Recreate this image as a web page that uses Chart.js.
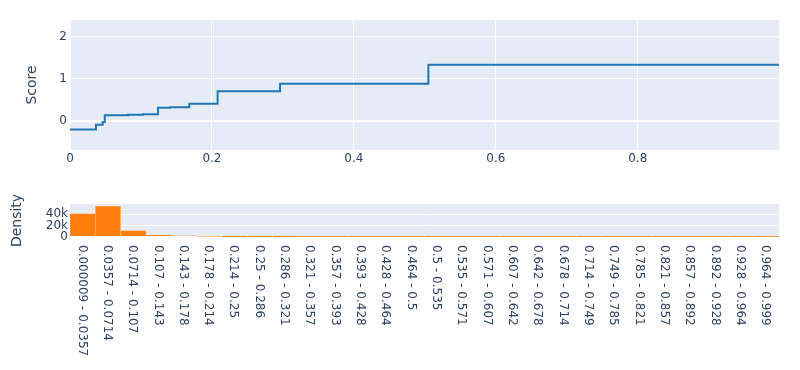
<!DOCTYPE html>
<html><head><meta charset="utf-8">
<script src="https://cdn.jsdelivr.net/npm/chart.js@4.4.1/dist/chart.umd.min.js"></script>
<style>
html,body{margin:0;padding:0;background:#fff;}
#wrap{position:relative;width:800px;height:370px;overflow:hidden;}
canvas{position:absolute;left:0;}
</style></head><body>
<div id="wrap">
<canvas id="top" width="800" height="180" style="top:0"></canvas>
<canvas id="bot" width="800" height="190" style="top:180px"></canvas>
</div>
<script>
// ---- data ----
const thresholds = [0, 0.0366, 0.041, 0.046, 0.049, 0.082, 0.103, 0.124, 0.141, 0.168, 0.208, 0.296, 0.505, 0.999];
const scores     = [-0.21, -0.10, -0.10, -0.03, 0.13, 0.14, 0.15, 0.31, 0.32, 0.40, 0.70, 0.88, 1.33, 1.33];
const scoreTicksX = [0, 0.2, 0.4, 0.6, 0.8];
const scoreTicksY = [0, 1, 2];
const binLabels = ["0.000009 - 0.0357","0.0357 - 0.0714","0.0714 - 0.107","0.107 - 0.143","0.143 - 0.178","0.178 - 0.214","0.214 - 0.25","0.25 - 0.286","0.286 - 0.321","0.321 - 0.357","0.357 - 0.393","0.393 - 0.428","0.428 - 0.464","0.464 - 0.5","0.5 - 0.535","0.535 - 0.571","0.571 - 0.607","0.607 - 0.642","0.642 - 0.678","0.678 - 0.714","0.714 - 0.749","0.749 - 0.785","0.785 - 0.821","0.821 - 0.857","0.857 - 0.892","0.892 - 0.928","0.928 - 0.964","0.964 - 0.999"];
const densities = [41000, 54500, 11400, 3600, 2000, 900, 400, 250, 180, 140, 110, 90, 75, 60, 50, 45, 40, 35, 30, 25, 22, 20, 18, 15, 12, 10, 8, 6];
const densityTicks = [0, 20000, 40000];

const FONT = "'DejaVu Sans', Verdana, sans-serif";
const TXT = '#2a3f5f';
const BG = '#e5ecf6';

const plotBg = {id:'plotBg', beforeDraw(c){
  const {ctx, chartArea:a} = c;
  ctx.save(); ctx.fillStyle = BG; ctx.fillRect(a.left, a.top, a.right-a.left, a.bottom-a.top); ctx.restore();
}};

const gridW = ctx => (ctx.tick && ctx.tick.value === 0) ? 2 : 1;

// ---- top chart ----
new Chart(document.getElementById('top'), {
  type: 'line',
  data: { datasets: [{
    data: thresholds.map((x,i)=>({x:x, y:scores[i]})),
    borderColor: '#1f77b4', borderWidth: 2, pointRadius: 0, stepped: true, fill: false
  }]},
  options: {
    responsive:false, maintainAspectRatio:false, animation:false, devicePixelRatio:1,
    layout:{padding:{left:0, right:21, top:20, bottom:0}},
    plugins:{legend:{display:false}, tooltip:{enabled:false}},
    scales:{
      x:{type:'linear', min:0, max:0.999,
        afterBuildTicks: s => { s.ticks = scoreTicksX.map(v=>({value:v})); },
        afterFit: s => { s.height = 30; },
        grid:{color:'#ffffff', lineWidth:1, drawTicks:false},
        border:{display:false},
        ticks:{padding:2, color:TXT, font:{family:FONT, size:12}, maxRotation:0, autoSkip:false,
          callback: v => String(v)}
      },
      y:{type:'linear', min:-0.7, max:2.4,
        afterBuildTicks: s => { s.ticks = scoreTicksY.map(v=>({value:v})); },
        afterFit: s => { s.width = 70; },
        grid:{color:'#ffffff', lineWidth:gridW, drawTicks:false},
        border:{display:false},
        ticks:{padding:3, color:TXT, font:{family:FONT, size:12}, autoSkip:false, callback: v => String(v)},
        title:{display:true, text:'Score', color:TXT, font:{family:FONT, size:14}, padding:{top:24,bottom:24}}
      }
    }
  },
  plugins:[plotBg]
});

// ---- bottom chart ----
const binLabelPlugin = {id:'binLabels', afterDraw(c){
  const ctx = c.ctx, xs = c.scales.x;
  ctx.save();
  ctx.fillStyle = TXT; ctx.font = '12px ' + FONT;
  ctx.textAlign = 'left'; ctx.textBaseline = 'middle';
  binLabels.forEach((lab,i)=>{
    const px = xs.getPixelForValue(i);
    ctx.save(); ctx.translate(px - 1, c.chartArea.bottom + 8); ctx.rotate(Math.PI/2);
    ctx.fillText(lab, 0, 0); ctx.restore();
  });
  ctx.restore();
}};

new Chart(document.getElementById('bot'), {
  type: 'bar',
  data: { labels: binLabels, datasets: [{
    data: densities, backgroundColor:'#ff7f0e', borderColor:'#fdd9b8',
    borderWidth:{top:0.5, left:0.5, right:0.5, bottom:0}, borderSkipped:false,
    barPercentage:1, categoryPercentage:1
  }]},
  options: {
    responsive:false, maintainAspectRatio:false, animation:false, devicePixelRatio:1,
    layout:{padding:{left:0, right:21, top:24, bottom:0}},
    plugins:{legend:{display:false}, tooltip:{enabled:false}},
    scales:{
      x:{type:'category',
        afterFit: s => { s.height = 133; },
        grid:{display:false, drawTicks:false},
        border:{display:false},
        ticks:{display:false}
      },
      y:{type:'linear', min:0, max:58000,
        afterBuildTicks: s => { s.ticks = densityTicks.map(v=>({value:v})); },
        afterFit: s => { s.width = 70; },
        grid:{color:'#ffffff', lineWidth:gridW, drawTicks:false},
        border:{display:false},
        ticks:{padding:2, color:TXT, font:{family:FONT, size:12}, autoSkip:false,
          callback: v => v === 0 ? '0' : (v/1000) + 'k'},
        title:{display:true, text:'Density', color:TXT, font:{family:FONT, size:14}, padding:{top:9,bottom:9}}
      }
    }
  },
  plugins:[plotBg, binLabelPlugin]
});
</script>
</body></html>
